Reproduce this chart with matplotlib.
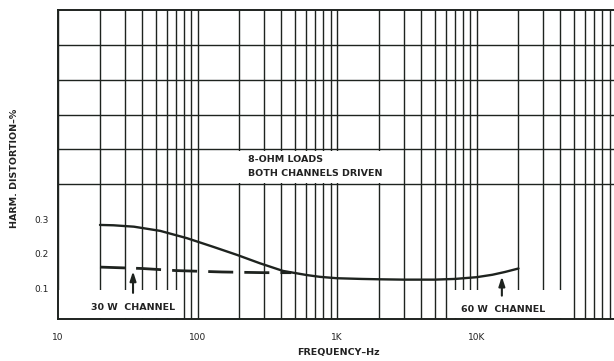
import matplotlib
matplotlib.use("Agg")
import matplotlib.pyplot as plt
from matplotlib.patches import Rectangle
import numpy as np

# ---- data ----
freq_60w = [20, 25, 35, 54, 84, 130, 192, 280, 410, 610, 755, 1000, 1500, 2000, 3000,
            5000, 7000, 10000, 13000, 16000, 20000]
thd_60w = [0.283, 0.282, 0.278, 0.266, 0.245, 0.220, 0.197, 0.173, 0.151, 0.139, 0.134,
           0.130, 0.128, 0.127, 0.126, 0.126, 0.128, 0.133, 0.140, 0.148, 0.158]

freq_30w = [20, 40, 70, 150, 300, 470]
thd_30w = [0.162, 0.158, 0.152, 0.148, 0.146, 0.146]

x_ticks = [10, 100, 1000, 10000]
x_ticklabels = ["10", "100", "1K", "10K"]
y_ticks = [0.1, 0.2, 0.3]
y_ticklabels = ["0.1", "0.2", "0.3"]

ink = "#1e231f"
txt = "#222222"

W, H = 614, 361
fig = plt.figure(figsize=(W / 100, H / 100), dpi=100)
left, right, top, bottom = 58, 616, 10, 319
ax = fig.add_axes([left / W, 1 - bottom / H, (right - left) / W, (bottom - top) / H])

ax.set_xscale("log")
ax.set_xlim(10, 100000)
ax.set_ylim(0.013, 0.9)

# grid
ax.set_yticks(np.arange(0.1, 0.85, 0.1), minor=True)
ax.grid(True, which="both", axis="x", color=ink, lw=1.0)
ax.grid(True, which="minor", axis="y", color=ink, lw=1.0)
ax.set_axisbelow(True)

ax.set_xticks(x_ticks)
ax.set_xticklabels(x_ticklabels)
ax.set_yticks(y_ticks)
ax.set_yticklabels(y_ticklabels)
ax.tick_params(which="both", length=0, labelsize=6.5, colors=txt, pad=7)
ax.tick_params(axis="x", pad=10)
for s in ax.spines.values():
    s.set_color(ink)
    s.set_linewidth(1.4)

# white label backgrounds (annotation boxes)
for (x0, x1, y0, y1) in [(188, 2950, 0.404, 0.496), (10, 78, 0.016, 0.096), (6300, 45000, 0.016, 0.096)]:
    ax.add_patch(Rectangle((x0, y0), x1 - x0, y1 - y0, facecolor="white", edgecolor="none", zorder=1.5))

# curves
ax.plot(freq_60w, thd_60w, color=ink, lw=1.7, zorder=3, solid_capstyle="round")
ax.plot(freq_30w, thd_30w, color=ink, lw=2.0, dashes=(9, 4), zorder=3)

# arrows
akw = dict(arrowstyle="-|>,head_length=0.55,head_width=0.18", color=ink, lw=1.5)
ax.annotate("", xy=(34.5, 0.158), xytext=(34.5, 0.08), arrowprops=akw, zorder=4)
ax.annotate("", xy=(15200, 0.143), xytext=(15200, 0.072), arrowprops=akw, zorder=4)

tkw = dict(fontsize=6.8, color=txt, fontweight="bold", zorder=5)
ax.text(34.5, 0.047, "30 W  CHANNEL", ha="center", va="center", **tkw)
ax.text(15500, 0.041, "60 W  CHANNEL", ha="center", va="center", **tkw)
ax.text(230, 0.472, "8-OHM LOADS", ha="left", va="center", **tkw)
ax.text(230, 0.432, "BOTH CHANNELS DRIVEN", ha="left", va="center", **tkw)

fig.text(338 / W, 1 - 353 / H, "FREQUENCY\u2013Hz", ha="center", va="center", fontsize=6.8,
         fontweight="bold", color=txt)
fig.text(15 / W, 1 - 168 / H, "HARM. DISTORTION\u2013%", ha="center", va="center", rotation=90,
         fontsize=6.8, fontweight="bold", color=txt)

fig.savefig("out.png", dpi=100)
